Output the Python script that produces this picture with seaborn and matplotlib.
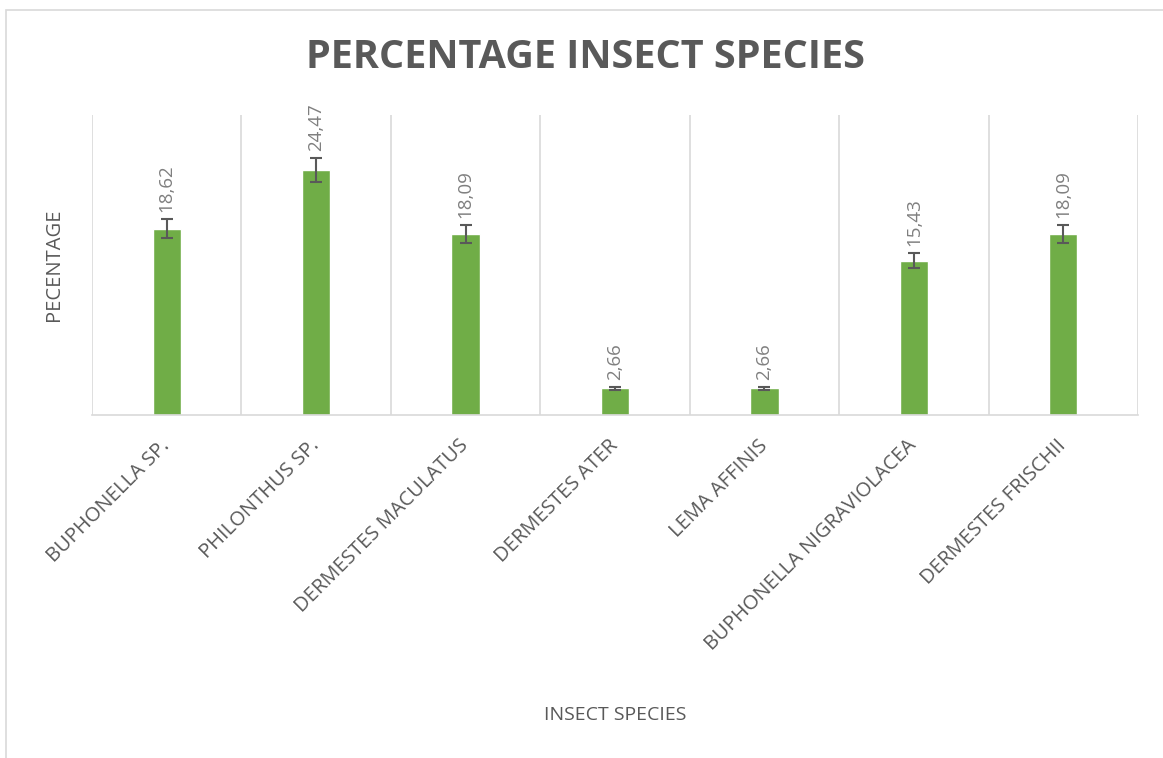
import matplotlib
matplotlib.use("Agg")
import matplotlib.pyplot as plt
import seaborn as sns
from matplotlib.patches import Rectangle

# ---- data ------------------------------------------------------------------
species = [
    "BUPHONELLA SP.",
    "PHILONTHUS SP.",
    "DERMESTES MACULATUS",
    "DERMESTES ATER",
    "LEMA AFFINIS",
    "BUPHONELLA NIGRAVIOLACEA",
    "DERMESTES FRISCHII",
]
percentage = [18.62, 24.47, 18.09, 2.66, 2.66, 15.43, 18.09]
error = [0.93, 1.22, 0.90, 0.13, 0.13, 0.77, 0.90]

BAR_COLOR = "#70ad47"
TEXT_GRAY = "#595959"
LABEL_GRAY = "#7f7f7f"
GRID_GRAY = "#d9d9d9"

sns.set_theme(style="white")
plt.rcParams["font.family"] = ["Open Sans", "DejaVu Sans"]

fig = plt.figure(figsize=(11.63, 7.58), dpi=100)
ax = fig.add_axes([0.0791, 0.4525, 0.8994, 0.3958])

# outer chart frame (partially visible, as in the reference)
fig.patches.append(Rectangle((6 / 1163, -0.05), 1.2, 1 - 10 / 758 + 0.05,
                             transform=fig.transFigure, fill=False,
                             edgecolor=GRID_GRAY, linewidth=1.2))

sns.barplot(x=species, y=percentage, color=BAR_COLOR, width=0.19,
            saturation=1, ax=ax)
ax.errorbar(x=range(len(species)), y=percentage, yerr=error, fmt="none",
            ecolor=TEXT_GRAY, elinewidth=1.5, capsize=4, capthick=1.5)

for i, (v, e) in enumerate(zip(percentage, error)):
    ax.text(i, v + e + 0.7, f"{v:.2f}".replace(".", ","), rotation=90,
            ha="center", va="bottom", fontsize=13.5, color=LABEL_GRAY)

# category separators
for b in range(len(species) + 1):
    ax.axvline(b - 0.5, color=GRID_GRAY, linewidth=1.2, zorder=0)

ax.set_xlim(-0.5, len(species) - 0.5)
ax.set_ylim(0, 30)
ax.set_yticks([])
for s in ["top", "right", "left"]:
    ax.spines[s].set_visible(False)
ax.spines["bottom"].set_color(GRID_GRAY)
ax.spines["bottom"].set_linewidth(1.2)

ax.tick_params(axis="x", length=0, pad=20)
for lbl in ax.get_xticklabels():
    lbl.set_rotation(45)
    lbl.set_ha("right")
    lbl.set_va("center")
    lbl.set_rotation_mode("anchor")
    lbl.set_fontsize(14.5)
    lbl.set_color(TEXT_GRAY)

ax.set_xlabel("INSECT SPECIES", fontsize=14, color=TEXT_GRAY)
ax.xaxis.set_label_coords(0.5, (706 - 415) / -300)
ax.set_ylabel("PECENTAGE", fontsize=14.5, color=TEXT_GRAY)
ax.yaxis.set_label_coords((64 - 92) / 1046, 0.5)

fig.text(585 / 1163, 1 - 57 / 758, "PERCENTAGE INSECT SPECIES",
         ha="center", va="center", fontsize=28.5, fontweight="bold",
         color=TEXT_GRAY)

fig.savefig("out.png", dpi=100)
plt.close(fig)
